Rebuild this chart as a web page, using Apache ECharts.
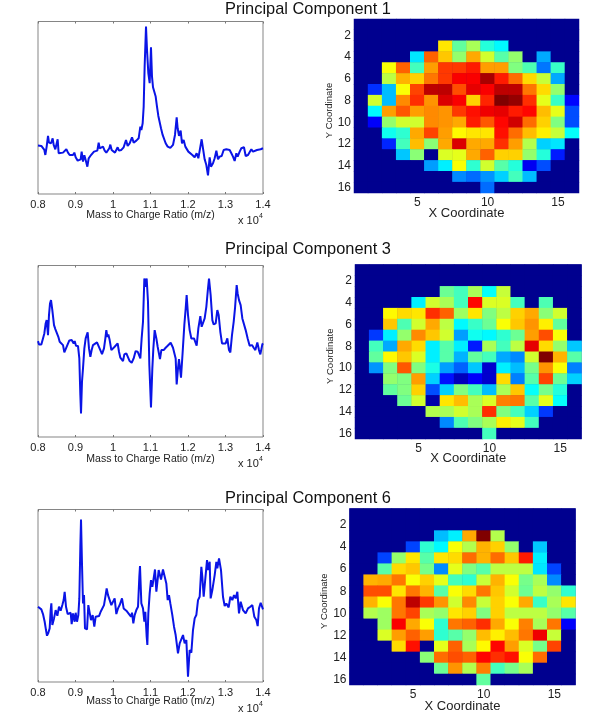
<!DOCTYPE html>
<html>
<head>
<meta charset="utf-8">
<style>html,body{margin:0;padding:0;background:#fff}#c{width:600px;height:715px}</style>
<script src="https://cdn.jsdelivr.net/npm/echarts@6/dist/echarts.min.js"></script>
</head>
<body>
<div id="c"></div>
<script>
const titles = ["Principal Component 1", "Principal Component 3", "Principal Component 6"];
const mzTicks = {min: 8000, max: 14000, step: 1000};
const gridCells = [1,2,3,4,5,6,7,8,9,10,11,12,13,14,15,16];

const spectrum1 = [[8000,145],[8044,142],[8089,144],[8133,144],[8169,132],[8196,117],[8231,142],[8267,174],[8293,154],[8320,150],[8347,152],[8391,167],[8418,147],[8462,134],[8489,137],[8524,164],[8551,122],[8596,124],[8667,124],[8711,126],[8756,134],[8800,124],[8844,117],[8889,120],[8933,117],[8969,124],[9004,110],[9058,100],[9111,95],[9138,104],[9164,127],[9200,97],[9236,116],[9271,102],[9316,82],[9351,107],[9396,114],[9449,117],[9493,127],[9538,122],[9582,130],[9618,154],[9644,137],[9689,134],[9733,142],[9778,130],[9822,124],[9867,120],[9902,137],[9929,148],[9964,132],[10009,127],[10053,124],[10089,129],[10124,140],[10160,130],[10222,132],[10284,140],[10347,162],[10391,144],[10444,152],[10507,170],[10551,154],[10622,160],[10684,167],[10729,202],[10756,192],[10791,212],[10818,262],[10844,382],[10880,502],[10907,432],[10942,362],[10978,332],[11013,440],[11040,352],[11067,320],[11102,324],[11138,292],[11173,262],[11209,234],[11244,232],[11280,197],[11324,177],[11369,172],[11404,152],[11458,142],[11529,138],[11600,147],[11653,177],[11698,230],[11724,197],[11760,174],[11804,190],[11840,152],[11884,162],[11929,142],[11973,144],[12009,127],[12062,132],[12116,117],[12178,110],[12231,122],[12276,107],[12329,112],[12364,164],[12400,137],[12444,104],[12489,87],[12533,56],[12578,110],[12613,82],[12667,92],[12711,107],[12756,130],[12800,104],[12844,112],[12898,114],[12951,132],[13022,134],[13111,132],[13156,122],[13200,112],[13244,99],[13289,122],[13324,112],[13378,127],[13422,137],[13493,140],[13538,114],[13600,117],[13644,122],[13689,134],[13733,127],[13778,122],[13840,132],[13893,130],[13938,134],[14000,137]];

const spectrum3 = [[8000,288],[8027,278],[8089,278],[8133,296],[8169,311],[8204,341],[8231,351],[8267,306],[8293,366],[8320,401],[8347,411],[8382,381],[8427,336],[8462,324],[8507,321],[8542,301],[8578,286],[8631,286],[8667,276],[8702,254],[8747,256],[8791,278],[8836,290],[8898,291],[8951,281],[8978,288],[9013,274],[9067,273],[9102,236],[9129,126],[9147,71],[9173,166],[9200,206],[9236,266],[9271,296],[9324,314],[9360,266],[9396,241],[9431,261],[9467,276],[9520,273],[9573,284],[9618,281],[9662,261],[9707,249],[9760,266],[9796,296],[9822,321],[9849,301],[9876,308],[9911,291],[9956,261],[10000,256],[10044,271],[10089,268],[10124,281],[10160,256],[10196,238],[10231,234],[10267,228],[10302,248],[10356,251],[10400,246],[10444,228],[10498,223],[10551,236],[10604,258],[10658,256],[10693,254],[10729,236],[10764,296],[10800,346],[10836,476],[10853,481],[10871,451],[10898,476],[10933,406],[10969,216],[11013,89],[11049,206],[11076,266],[11111,321],[11156,296],[11191,271],[11227,276],[11253,234],[11289,261],[11351,261],[11404,268],[11458,274],[11538,283],[11600,268],[11644,266],[11671,236],[11698,158],[11733,206],[11760,234],[11787,206],[11813,178],[11858,256],[11902,336],[11938,386],[11964,426],[12000,366],[12044,321],[12089,296],[12160,296],[12196,296],[12231,274],[12276,326],[12329,363],[12364,331],[12400,336],[12444,356],[12489,391],[12533,446],[12560,476],[12604,426],[12649,351],[12684,338],[12738,341],[12782,381],[12818,366],[12862,316],[12907,281],[12951,276],[13004,281],[13049,296],[13093,261],[13129,254],[13173,306],[13218,346],[13253,386],[13298,456],[13324,431],[13360,411],[13404,396],[13449,356],[13493,356],[13538,321],[13591,296],[13644,274],[13707,276],[13751,268],[13796,261],[13849,284],[13893,261],[13929,248],[13982,278],[14000,281]];

const spectrum6 = [[8000,226],[8044,226],[8089,218],[8133,204],[8178,181],[8213,156],[8240,139],[8276,148],[8311,161],[8338,216],[8356,236],[8382,171],[8427,191],[8471,216],[8516,199],[8560,226],[8604,214],[8649,231],[8684,246],[8711,271],[8747,226],[8791,204],[8836,198],[8871,208],[8898,174],[8933,206],[8978,181],[9004,208],[9040,181],[9076,201],[9102,251],[9129,406],[9147,488],[9173,356],[9200,236],[9227,261],[9253,161],[9307,158],[9342,231],[9378,236],[9413,186],[9458,201],[9502,166],[9538,196],[9582,201],[9627,198],[9671,211],[9716,216],[9760,231],[9804,261],[9831,281],[9867,261],[9911,261],[9956,231],[10000,228],[10044,251],[10089,204],[10133,221],[10178,231],[10240,251],[10284,221],[10356,214],[10427,204],[10480,196],[10507,208],[10542,176],[10578,201],[10622,216],[10667,226],[10702,316],[10720,348],[10756,236],[10800,221],[10836,181],[10862,211],[10898,136],[10916,111],[10942,206],[10978,266],[11013,306],[11049,286],[11084,311],[11120,338],[11156,271],[11182,271],[11218,336],[11253,338],[11280,308],[11333,338],[11378,334],[11422,296],[11458,246],[11493,261],[11529,236],[11582,201],[11627,166],[11671,141],[11707,146],[11733,86],[11778,116],[11822,121],[11867,141],[11911,116],[11956,126],[12000,16],[12044,96],[12089,88],[12133,156],[12178,191],[12222,201],[12267,246],[12311,256],[12356,346],[12382,316],[12418,256],[12462,256],[12507,366],[12533,336],[12578,361],[12604,251],[12649,276],[12711,321],[12756,361],[12782,341],[12827,371],[12880,336],[12933,256],[12978,228],[13022,236],[13084,224],[13129,256],[13182,246],[13227,261],[13271,251],[13316,271],[13360,206],[13404,241],[13467,216],[13538,206],[13600,221],[13662,226],[13716,231],[13769,196],[13822,186],[13858,168],[13893,221],[13938,238],[13973,234],[14000,218]];

const map1 = [
[0,0,0,0,0,0,0,0,0,0,0,0,0,0,0,0],
[0,0,0,0,0,0,0,0,0,0,0,0,0,0,0,0],
[0,0,0,0,0,0,65,47,54,41,37,0,0,0,0,0],
[0,0,0,0,35,78,68,52,71,58,46,52,0,29,0,0],
[0,0,62,78,44,72,82,82,85,72,72,50,45,24,43,0],
[0,0,56,70,67,76,82,88,88,96,85,77,66,57,29,0],
[0,17,31,62,81,94,94,80,90,88,94,94,76,66,52,0],
[0,58,31,74,83,73,91,88,67,84,100,98,83,60,43,13],
[0,37,72,79,72,74,73,82,86,89,90,85,87,69,60,20],
[0,12,52,58,58,74,73,71,85,79,87,92,77,67,50,20],
[0,0,39,42,71,81,72,63,65,65,86,77,69,64,57,38],
[0,0,16,44,69,51,71,91,71,71,83,72,55,33,35,0],
[0,0,0,32,51,0,59,60,71,78,67,67,52,41,15,0],
[0,0,0,0,0,28,36,62,42,58,46,41,11,20,0,0],
[0,0,0,0,0,0,0,26,23,27,33,44,31,0,0,0],
[0,0,0,0,0,0,0,0,0,23,0,0,0,0,0,0]];

const map3 = [
[0,0,0,0,0,0,0,0,0,0,0,0,0,0,0,0],
[0,0,0,0,0,0,0,0,0,0,0,0,0,0,0,0],
[0,0,0,0,0,0,48,44,54,38,57,0,0,0,0,0],
[0,0,0,0,36,58,54,44,87,59,59,44,0,45,0,0],
[0,0,63,66,65,83,78,53,65,50,56,67,71,51,58,0],
[0,0,68,45,58,71,56,37,43,48,62,68,73,64,47,0],
[0,18,36,52,74,68,58,28,39,37,42,48,72,80,62,0],
[0,44,29,71,66,36,46,36,15,54,44,56,90,66,52,32],
[0,47,63,68,59,36,46,30,47,44,29,26,58,100,70,46],
[0,27,50,79,50,40,28,22,32,7,36,31,49,73,62,25],
[0,0,52,50,72,33,14,5,12,7,66,25,46,81,48,33],
[0,0,47,50,67,20,33,50,44,31,54,68,38,49,41,0],
[0,0,0,48,58,3,65,69,54,59,75,76,46,60,38,0],
[0,0,0,0,0,55,54,58,54,83,50,44,33,18,0,0],
[0,0,0,0,0,0,26,45,50,54,64,60,44,0,0,0],
[0,0,0,0,0,0,0,0,0,44,0,0,0,0,0,0]];

const map6 = [
[0,0,0,0,0,0,0,0,0,0,0,0,0,0,0,0],
[0,0,0,0,0,0,0,0,0,0,0,0,0,0,0,0],
[0,0,0,0,0,0,31,36,71,100,55,0,0,0,0,0],
[0,0,0,0,19,42,37,62,55,70,67,52,0,32,0,0],
[0,0,19,52,65,46,65,66,77,70,77,68,85,36,0,0],
[0,0,46,66,68,49,26,60,50,46,56,56,56,35,19,0],
[0,70,71,76,62,67,60,44,42,57,70,62,49,54,26,0],
[0,80,80,65,76,70,46,62,66,76,68,58,48,56,52,42],
[0,70,62,76,94,82,73,58,74,57,67,62,71,43,54,65],
[0,55,53,76,81,54,52,65,67,50,67,56,56,56,52,46],
[0,0,53,88,71,62,42,76,78,83,71,62,75,54,76,12],
[0,0,59,72,78,72,42,46,52,69,64,69,76,89,57,0],
[0,0,0,66,86,0,60,78,54,63,87,72,59,49,81,0],
[0,0,0,0,0,51,77,80,78,87,83,86,62,77,0,0],
[0,0,0,0,0,0,48,73,55,75,44,49,54,0,0,0],
[0,0,0,0,0,0,0,0,0,47,0,0,0,0,0,0]];

const jet = ['#00008f','#0000ff','#0080ff','#00ffff','#80ff80','#ffff00','#ff8000','#ff0000','#800000'];
const FONT = '"Liberation Sans", Arial, sans-serif';
const TXT = '#222';

const linePanels = [
  {data: spectrum1, left: 38, top: 21.5, w: 225, h: 172.5, yMax: 517, titleY: 1, gap: 16},
  {data: spectrum3, left: 38, top: 265.5, w: 225, h: 171.5, yMax: 515, titleY: 241, gap: 17},
  {data: spectrum6, left: 38, top: 509.5, w: 225, h: 172.5, yMax: 518, titleY: 490, gap: 13.5}
];
const mapPanels = [
  {data: map1, left: 354, top: 19, w: 225, h: 174, gap: 13.5},
  {data: map3, left: 355, top: 264.5, w: 226.5, h: 174.5, gap: 13},
  {data: map6, left: 349.5, top: 508.5, w: 226, h: 176.5, gap: 14.5}
];

const grid = [], xAxis = [], yAxis = [], series = [], visualMap = [], title = [];
linePanels.forEach((p, i) => {
  title.push({text: titles[i], left: 308, top: p.titleY, textAlign: 'center', padding: 0,
    textStyle: {fontFamily: FONT, fontSize: 16.4, fontWeight: 'normal', color: '#111'}});
  title.push({text: 'x 10', left: 238, top: p.top + p.h + 21, padding: 0, textStyle: {fontFamily: FONT, fontSize: 11, fontWeight: 'normal', color: TXT}});
  title.push({text: '4', left: 259, top: p.top + p.h + 19, padding: 0, textStyle: {fontFamily: FONT, fontSize: 7, fontWeight: 'normal', color: TXT}});
  const g = grid.length;
  grid.push({left: p.left, top: p.top, width: p.w, height: p.h, show: true, borderColor: '#858585', borderWidth: 1, backgroundColor: '#fff'});
  xAxis.push({gridIndex: g, type: 'value', min: mzTicks.min, max: mzTicks.max, interval: mzTicks.step, splitLine: {show: false},
    axisLine: {show: false}, axisTick: {inside: true, length: 2, lineStyle: {color: '#777'}},
    axisLabel: {fontFamily: FONT, fontSize: 11, color: TXT, margin: 5, formatter: v => String(v / 10000), showMinLabel: true, showMaxLabel: true},
    name: 'Mass to Charge Ratio (m/z)', nameLocation: 'middle', nameGap: p.gap, nameMoveOverlap: false,
    nameTextStyle: {fontFamily: FONT, fontSize: 10.5, color: TXT}});
  xAxis.push({gridIndex: g, type: 'value', position: 'top', min: mzTicks.min, max: mzTicks.max, interval: mzTicks.step, splitLine: {show: false},
    axisLine: {show: false}, axisTick: {inside: true, length: 2, lineStyle: {color: '#777'}}, axisLabel: {show: false}});
  yAxis.push({gridIndex: g, type: 'value', min: 0, max: p.yMax, splitLine: {show: false}, axisLine: {show: false}, axisTick: {show: false}, axisLabel: {show: false}});
  series.push({type: 'line', xAxisIndex: xAxis.length - 2, yAxisIndex: yAxis.length - 1, data: p.data, showSymbol: false,
    lineStyle: {color: '#0a14e6', width: 2}, silent: true, animation: false, z: 3});
});
mapPanels.forEach((p, i) => {
  const g = grid.length;
  grid.push({left: p.left, top: p.top, width: p.w, height: p.h, show: true, borderWidth: 0, backgroundColor: '#00008f'});
  xAxis.push({gridIndex: g, type: 'category', data: gridCells, splitLine: {show: false}, splitArea: {show: false},
    axisLine: {show: false}, axisTick: {show: false},
    axisLabel: {fontFamily: FONT, fontSize: 12, color: TXT, margin: 4, interval: (idx, v) => Number(v) % 5 === 0},
    name: 'X Coordinate', nameLocation: 'middle', nameGap: p.gap, nameMoveOverlap: false, nameTextStyle: {fontFamily: FONT, fontSize: 13, color: TXT}});
  yAxis.push({gridIndex: g, type: 'category', inverse: true, data: gridCells, splitLine: {show: false}, splitArea: {show: false},
    axisLine: {show: false}, axisTick: {show: false},
    axisLabel: {fontFamily: FONT, fontSize: 12, color: TXT, margin: 3, interval: (idx, v) => Number(v) % 2 === 0},
    name: 'Y Coordinate', nameLocation: 'middle', nameGap: 20, nameMoveOverlap: false, nameTextStyle: {fontFamily: FONT, fontSize: 9.5, color: TXT, padding: [0, 9, 0, 0]}});
  const cells = [];
  p.data.forEach((row, r) => row.forEach((v, c) => cells.push([c, r, v])));
  visualMap.push({show: false, type: 'continuous', min: 0, max: 100, seriesIndex: series.length, inRange: {color: jet}});
  series.push({type: 'heatmap', xAxisIndex: xAxis.length - 1, yAxisIndex: yAxis.length - 1, data: cells, silent: true, animation: false,
    progressive: 0, itemStyle: {borderWidth: 0}});
});

const chart = echarts.init(document.getElementById('c'), null, {renderer: 'canvas'});
chart.setOption({animation: false, backgroundColor: '#ffffff', title, grid, xAxis, yAxis, visualMap, series});
</script>
</body>
</html>
